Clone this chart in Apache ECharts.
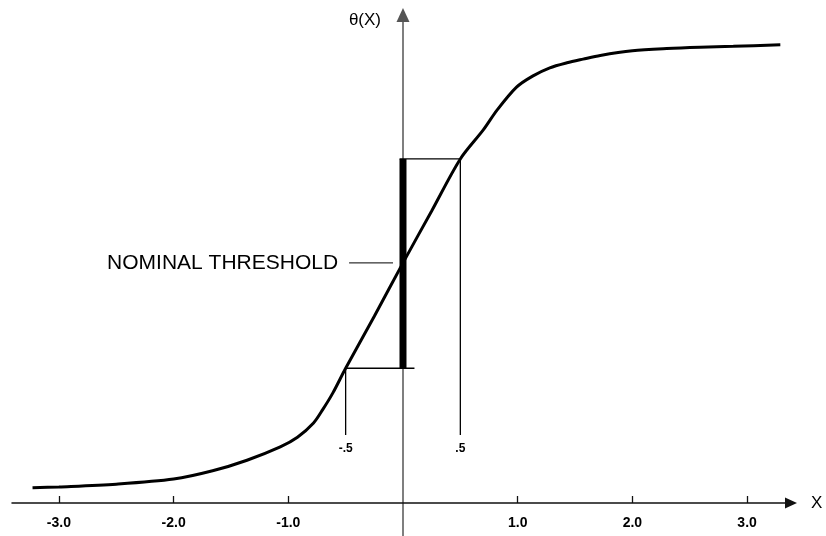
<!DOCTYPE html>
<html>
<head>
<meta charset="utf-8">
<script src="https://cdn.jsdelivr.net/npm/echarts@6/dist/echarts.min.js"></script>
<style>
html,body{margin:0;padding:0;background:#fff;}
#chart{width:826px;height:536px;}
</style>
</head>
<body>
<div id="chart"></div>
<script>
// ---- data ----
const curveX = [-3.23, -3.0, -2.5, -2.0, -1.66, -1.36, -1.07, -0.92, -0.78, -0.70, -0.61, -0.5, -0.25, 0, 0.25, 0.5, 0.70, 0.82, 0.99, 1.13, 1.28, 1.43, 1.57, 1.72, 2.0, 2.3, 2.59, 2.88, 3.29];
const curveY = [0.033, 0.035, 0.041, 0.052, 0.070, 0.093, 0.122, 0.143, 0.174, 0.203, 0.240, 0.293, 0.406, 0.522, 0.635, 0.748, 0.811, 0.854, 0.904, 0.928, 0.946, 0.957, 0.965, 0.973, 0.983, 0.988, 0.991, 0.993, 0.996];
const tickValues = [-3, -2, -1, 1, 2, 3];
const bandX = [-0.5, 0.5];          // nominal threshold band limits
const bandY = [0.293, 0.748];       // curve values at band limits
const thresholdY = 0.522;           // nominal threshold level
const lowLineX = [-0.5, 0.1];       // lower horizontal guide
const highLineX = [-0.03, 0.5];     // upper horizontal guide
const dropBottomY = 0.148;          // lower end of the vertical guides
const leaderX = [-0.47, -0.087];    // leader line for the label
const bandLabels = ['-.5', '.5'];
const axisNames = { x: 'X', y: 'θ(X)' };
const labelText = 'NOMINAL THRESHOLD';

const FONT = 'Liberation Sans';
const chart = echarts.init(document.getElementById('chart'), null, { renderer: 'canvas' });

const curveData = curveX.map((x, i) => [x, curveY[i]]);
const thin = { color: '#000', width: 1.3 };

function seg(name, data, lineStyle, extra) {
  return Object.assign({
    type: 'line', name: name, data: data, symbol: 'circle', symbolSize: 0,
    showSymbol: true, lineStyle: lineStyle, itemStyle: { color: '#000' },
    silent: true, z: 3
  }, extra || {});
}

const option = {
  animation: false,
  backgroundColor: '#fff',
  grid: {
    left: 12, right: 35, top: 15, bottom: 0, containLabel: false,
    outerBounds: { left: -80, right: -80, top: -80, bottom: -80 }
  },
  xAxis: {
    type: 'value', min: -3.409, max: 3.383,
    name: axisNames.x, nameLocation: 'end', nameGap: 20,
    nameTextStyle: { fontFamily: FONT, fontSize: 17, color: '#000', padding: [14, 0, 0, 0] },
    axisLine: { onZero: true, lineStyle: { color: '#111', width: 1.5 }, symbol: ['none', 'triangle'], symbolSize: [11, 12] },
    axisTick: { show: true, inside: true, length: 7, lineStyle: { color: '#111', width: 1.3 }, customValues: tickValues },
    axisLabel: {
      show: true, customValues: tickValues, margin: -20,
      formatter: v => Number(v).toFixed(1),
      fontFamily: FONT, fontSize: 14, fontWeight: 'bold', color: '#000'
    },
    splitLine: { show: false }
  },
  yAxis: {
    type: 'value', min: -0.0717, max: 1.0609,
    name: axisNames.y, nameLocation: 'end', nameGap: -5,
    nameTextStyle: { fontFamily: FONT, fontSize: 17, color: '#000', align: 'right', verticalAlign: 'middle', padding: [0, 22, 0, 0] },
    axisLine: { onZero: true, lineStyle: { color: '#555', width: 1.5 }, symbol: ['none', 'triangle'], symbolSize: [13, 14] },
    axisTick: { show: false },
    axisLabel: { show: false },
    splitLine: { show: false }
  },
  series: [
    seg('curve', curveData, { color: '#000', width: 3 }, { smooth: 0.3, symbol: 'none', showSymbol: false, z: 4 }),
    seg('band', [[0, bandY[0]], [0, bandY[1]]], { color: '#000', width: 7 }, { z: 5 }),
    seg('low', [[lowLineX[0], bandY[0]], [lowLineX[1], bandY[0]]], thin),
    seg('high', [[highLineX[0], bandY[1]], [highLineX[1], bandY[1]]], thin),
    seg('dropL', [
      [bandX[0], bandY[0]],
      { value: [bandX[0], dropBottomY], label: { show: true, position: 'bottom', distance: 8, formatter: bandLabels[0], fontFamily: FONT, fontSize: 12, fontWeight: 'bold', color: '#000' } }
    ], thin),
    seg('dropR', [
      [bandX[1], bandY[1]],
      { value: [bandX[1], dropBottomY], label: { show: true, position: 'bottom', distance: 8, formatter: bandLabels[1], fontFamily: FONT, fontSize: 12, fontWeight: 'bold', color: '#000' } }
    ], thin),
    seg('leader', [
      { value: [leaderX[0], thresholdY], label: { show: true, position: 'left', distance: 11, formatter: labelText, fontFamily: FONT, fontSize: 21, color: '#000' } },
      [leaderX[1], thresholdY]
    ], { color: '#000', width: 1 })
  ]
};
chart.setOption(option);
</script>
</body>
</html>
